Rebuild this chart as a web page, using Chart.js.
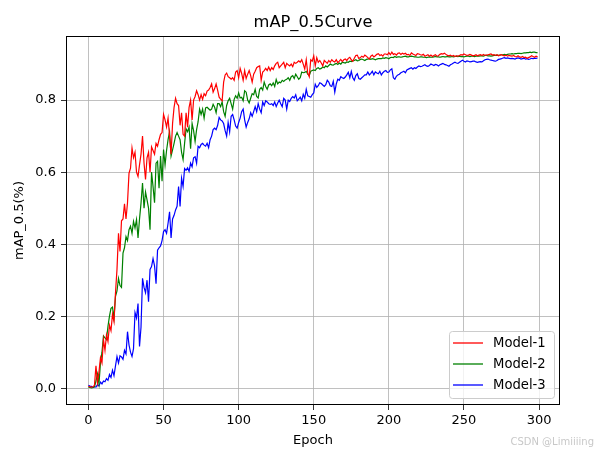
<!DOCTYPE html>
<html>
<head>
<meta charset="utf-8">
<script src="https://cdn.jsdelivr.net/npm/chart.js@4.4.1/dist/chart.umd.min.js"></script>
<style>
  html, body { margin: 0; padding: 0; background: #fff; }
  canvas { display: block; }
</style>
</head>
<body>
<canvas id="mapChart" width="598" height="453"></canvas>
<script>
// mAP@0.5 per epoch (0..299)
const model1 = [
  0.005, 0.004, 0.003, 0.004, 0.008, 0.062, 0.015, 0.045, 0.085, 0.070,
  0.135, 0.105, 0.148, 0.130, 0.175, 0.160, 0.205, 0.185, 0.265, 0.330,
  0.430, 0.380, 0.465, 0.470, 0.512, 0.470, 0.515, 0.597, 0.611, 0.667,
  0.640, 0.655, 0.600, 0.588, 0.620, 0.650, 0.700, 0.625, 0.580, 0.640,
  0.655, 0.600, 0.670, 0.660, 0.650, 0.680, 0.672, 0.690, 0.705, 0.710,
  0.760, 0.745, 0.725, 0.750, 0.700, 0.650, 0.735, 0.780, 0.805, 0.790,
  0.785, 0.730, 0.765, 0.705, 0.700, 0.765, 0.725, 0.780, 0.800, 0.745,
  0.800, 0.810, 0.826, 0.815, 0.800, 0.815, 0.802, 0.818, 0.812, 0.825,
  0.828, 0.835, 0.845, 0.822, 0.832, 0.845, 0.828, 0.808, 0.803, 0.798,
  0.850, 0.870, 0.875, 0.865, 0.862, 0.858, 0.862, 0.855, 0.878, 0.882,
  0.862, 0.888, 0.874, 0.855, 0.882, 0.860, 0.872, 0.882, 0.868, 0.850,
  0.872, 0.880, 0.890, 0.893, 0.895, 0.855, 0.878, 0.882, 0.888, 0.882,
  0.892, 0.882, 0.890, 0.885, 0.895, 0.902, 0.905, 0.890, 0.895, 0.900,
  0.905, 0.890, 0.902, 0.898, 0.895, 0.900, 0.893, 0.905, 0.902, 0.905,
  0.909, 0.905, 0.912, 0.900, 0.886, 0.912, 0.875, 0.865, 0.912, 0.908,
  0.923, 0.895, 0.918, 0.905, 0.910, 0.903, 0.895, 0.910, 0.906, 0.902,
  0.910, 0.905, 0.912, 0.908, 0.906, 0.912, 0.904, 0.908, 0.913, 0.907,
  0.912, 0.914, 0.910, 0.916, 0.919, 0.912, 0.908, 0.916, 0.924, 0.925,
  0.915, 0.918, 0.922, 0.919, 0.925, 0.922, 0.918, 0.914, 0.922, 0.925,
  0.920, 0.923, 0.927, 0.929, 0.924, 0.926, 0.922, 0.928, 0.928, 0.926,
  0.932, 0.926, 0.933, 0.927, 0.929, 0.925, 0.930, 0.931, 0.927, 0.930,
  0.928, 0.930, 0.926, 0.927, 0.924, 0.931, 0.928, 0.926, 0.924, 0.929,
  0.928, 0.926, 0.925, 0.927, 0.922, 0.924, 0.926, 0.922, 0.925, 0.921,
  0.924, 0.926, 0.922, 0.923, 0.927, 0.929, 0.928, 0.930, 0.927, 0.924,
  0.923, 0.925, 0.922, 0.924, 0.921, 0.923, 0.922, 0.924, 0.926, 0.925,
  0.928, 0.926, 0.924, 0.925, 0.927, 0.925, 0.923, 0.924, 0.926, 0.923,
  0.925, 0.926, 0.924, 0.927, 0.924, 0.925, 0.926, 0.927, 0.928, 0.925,
  0.926, 0.924, 0.926, 0.923, 0.925, 0.926, 0.924, 0.923, 0.925, 0.922,
  0.924, 0.923, 0.922, 0.924, 0.921, 0.920, 0.923, 0.920, 0.919, 0.921,
  0.918, 0.919, 0.916, 0.918, 0.920, 0.923, 0.921, 0.919, 0.922, 0.920
];

const model2 = [
  0.003, 0.002, 0.001, 0.002, 0.004, 0.020, 0.040, 0.012, 0.070, 0.100,
  0.145, 0.140, 0.135, 0.172, 0.200, 0.222, 0.225, 0.195, 0.255, 0.270,
  0.305, 0.285, 0.280, 0.375, 0.390, 0.421, 0.410, 0.440, 0.450, 0.430,
  0.463, 0.445, 0.468, 0.417, 0.470, 0.514, 0.570, 0.500, 0.545, 0.523,
  0.500, 0.440, 0.600, 0.560, 0.515, 0.625, 0.630, 0.555, 0.645, 0.575,
  0.663, 0.620, 0.660, 0.690, 0.712, 0.645, 0.662, 0.680, 0.700, 0.710,
  0.700, 0.690, 0.655, 0.635, 0.680, 0.720, 0.712, 0.725, 0.665, 0.735,
  0.715, 0.685, 0.718, 0.740, 0.775, 0.760, 0.775, 0.750, 0.778, 0.780,
  0.776, 0.772, 0.775, 0.788, 0.780, 0.765, 0.790, 0.790, 0.782, 0.795,
  0.768, 0.755, 0.785, 0.798, 0.805, 0.790, 0.775, 0.802, 0.812, 0.805,
  0.820, 0.806, 0.808, 0.798, 0.826, 0.822, 0.800, 0.792, 0.805, 0.818,
  0.815, 0.830, 0.810, 0.806, 0.830, 0.835, 0.828, 0.850, 0.838, 0.830,
  0.842, 0.845, 0.840, 0.848, 0.838, 0.857, 0.845, 0.850, 0.848, 0.855,
  0.852, 0.856, 0.858, 0.862, 0.855, 0.865, 0.868, 0.860, 0.872, 0.865,
  0.858, 0.862, 0.878, 0.876, 0.877, 0.880, 0.872, 0.868, 0.880, 0.882,
  0.884, 0.882, 0.888, 0.890, 0.886, 0.888, 0.892, 0.890, 0.895, 0.892,
  0.896, 0.900, 0.898, 0.897, 0.900, 0.902, 0.899, 0.903, 0.900, 0.905,
  0.904, 0.903, 0.906, 0.905, 0.908, 0.907, 0.909, 0.910, 0.912, 0.909,
  0.910, 0.913, 0.914, 0.912, 0.910, 0.913, 0.914, 0.915, 0.913, 0.915,
  0.914, 0.912, 0.914, 0.915, 0.915, 0.915, 0.917, 0.916, 0.918, 0.917,
  0.915, 0.918, 0.919, 0.918, 0.921, 0.919, 0.920, 0.920, 0.919, 0.920,
  0.921, 0.922, 0.920, 0.920, 0.921, 0.922, 0.921, 0.920, 0.920, 0.919,
  0.919, 0.920, 0.920, 0.919, 0.919, 0.918, 0.919, 0.920, 0.919, 0.919,
  0.920, 0.921, 0.920, 0.920, 0.919, 0.920, 0.921, 0.920, 0.920, 0.921,
  0.920, 0.920, 0.921, 0.920, 0.921, 0.922, 0.921, 0.922, 0.921, 0.921,
  0.920, 0.921, 0.922, 0.922, 0.921, 0.922, 0.922, 0.921, 0.922, 0.922,
  0.922, 0.923, 0.923, 0.922, 0.924, 0.924, 0.923, 0.923, 0.922, 0.923,
  0.924, 0.924, 0.925, 0.924, 0.925, 0.926, 0.926, 0.927, 0.926, 0.927,
  0.928, 0.928, 0.929, 0.928, 0.929, 0.929, 0.930, 0.930, 0.929, 0.930,
  0.931, 0.931, 0.932, 0.932, 0.933, 0.932, 0.933, 0.933, 0.932, 0.932
];

const model3 = [
  0.008, 0.006, 0.005, 0.002, 0.004, 0.003, 0.010, 0.006, 0.017, 0.012,
  0.020, 0.018, 0.027, 0.022, 0.038, 0.030, 0.050, 0.035, 0.062, 0.088,
  0.070, 0.090, 0.087, 0.080, 0.105, 0.095, 0.157, 0.120, 0.100, 0.088,
  0.110, 0.210, 0.195, 0.235, 0.116, 0.170, 0.305, 0.280, 0.265, 0.300,
  0.240, 0.330, 0.338, 0.360, 0.340, 0.290, 0.383, 0.390, 0.395, 0.410,
  0.435, 0.440, 0.430, 0.458, 0.490, 0.417, 0.470, 0.480, 0.495, 0.505,
  0.560, 0.505, 0.583, 0.560, 0.610, 0.605, 0.612, 0.602, 0.625, 0.615,
  0.640, 0.643, 0.625, 0.672, 0.668, 0.677, 0.680, 0.675, 0.672, 0.680,
  0.668, 0.690, 0.700, 0.718, 0.722, 0.718, 0.730, 0.752, 0.745, 0.742,
  0.735, 0.715, 0.700, 0.738, 0.712, 0.755, 0.760, 0.745, 0.728, 0.722,
  0.738, 0.750, 0.768, 0.775, 0.745, 0.725, 0.738, 0.748, 0.765, 0.755,
  0.768, 0.782, 0.768, 0.790, 0.775, 0.765, 0.795, 0.785, 0.798, 0.795,
  0.790, 0.788, 0.790, 0.785, 0.795, 0.782, 0.792, 0.800, 0.790, 0.782,
  0.805, 0.800, 0.775, 0.800, 0.796, 0.805, 0.810, 0.806, 0.815, 0.798,
  0.803, 0.808, 0.798, 0.816, 0.805, 0.830, 0.812, 0.810, 0.808, 0.815,
  0.820, 0.844, 0.835, 0.840, 0.848, 0.846, 0.842, 0.838, 0.843, 0.855,
  0.850, 0.840, 0.838, 0.852, 0.822, 0.845, 0.858, 0.855, 0.865, 0.862,
  0.860, 0.864, 0.870, 0.877, 0.862, 0.880, 0.862, 0.855, 0.868, 0.873,
  0.860, 0.858, 0.862, 0.866, 0.870, 0.870, 0.878, 0.870, 0.874, 0.880,
  0.870, 0.878, 0.875, 0.873, 0.880, 0.870, 0.876, 0.880, 0.882, 0.877,
  0.878, 0.884, 0.887, 0.862, 0.858, 0.866, 0.870, 0.872, 0.876, 0.878,
  0.880, 0.876, 0.884, 0.886, 0.888, 0.890, 0.886, 0.890, 0.888, 0.892,
  0.895, 0.893, 0.894, 0.896, 0.898, 0.895, 0.894, 0.896, 0.900, 0.898,
  0.896, 0.899, 0.898, 0.895, 0.898, 0.900, 0.902, 0.899, 0.898, 0.896,
  0.894, 0.898, 0.900, 0.903, 0.905, 0.903, 0.902, 0.905, 0.908, 0.911,
  0.908, 0.906, 0.909, 0.908, 0.906, 0.907, 0.908, 0.908, 0.906, 0.905,
  0.906, 0.907, 0.906, 0.909, 0.912, 0.913, 0.914, 0.912, 0.911, 0.910,
  0.909, 0.908, 0.910, 0.913, 0.914, 0.915, 0.917, 0.918, 0.916, 0.917,
  0.916, 0.915, 0.916, 0.915, 0.914, 0.916, 0.917, 0.916, 0.914, 0.915,
  0.916, 0.914, 0.915, 0.913, 0.914, 0.916, 0.915, 0.916, 0.916, 0.917
];

const seriesNames = ['Model-1', 'Model-2', 'Model-3'];
const xTicks = [0, 50, 100, 150, 200, 250, 300];
const yTicks = [0.0, 0.2, 0.4, 0.6, 0.8];

const FONT = 'DejaVu Sans';

function toPoints(arr) {
    return arr.map(function (v, i) { return { x: i, y: v }; });
}

// title over the axes, frame on all four sides, legend box and watermark
const decorations = {
    id: 'decorations',
    afterDraw: function (chart) {
        const ctx = chart.ctx;
        const a = chart.chartArea;
        ctx.save();

        ctx.font = '16.3px "' + FONT + '"';
        ctx.fillStyle = '#000';
        ctx.textAlign = 'center';
        ctx.textBaseline = 'middle';
        ctx.fillText('mAP_0.5Curve', (a.left + a.right) / 2, 23);

        ctx.strokeStyle = '#000';
        ctx.lineWidth = 1;
        ctx.strokeRect(Math.round(a.left) + 0.5, Math.round(a.top) + 0.5,
            Math.round(a.right - a.left) - 1, Math.round(a.bottom - a.top) - 1);

        // legend, lower right
        const boxW = 105, boxH = 67;
        const bx = a.right - 6 - boxW, by = a.bottom - 7 - boxH;
        ctx.beginPath();
        ctx.roundRect(bx + 0.5, by + 0.5, boxW, boxH, 3);
        ctx.fillStyle = 'rgba(255,255,255,0.8)';
        ctx.fill();
        ctx.strokeStyle = '#cccccc';
        ctx.stroke();
        ctx.font = '13.2px "' + FONT + '"';
        ctx.textAlign = 'left';
        chart.data.datasets.forEach(function (ds, i) {
            const ry = by + 12 + i * 21;
            ctx.beginPath();
            ctx.moveTo(bx + 4, ry);
            ctx.lineTo(bx + 34, ry);
            ctx.strokeStyle = ds.borderColor;
            ctx.lineWidth = 1.3;
            ctx.stroke();
            ctx.fillStyle = '#000';
            ctx.fillText(ds.label, bx + 44, ry + 1);
        });

        ctx.font = '10px "' + FONT + '"';
        ctx.fillStyle = '#c8c8c8';
        ctx.textAlign = 'right';
        ctx.fillText('CSDN @Limiiiing', 594, 442);
        ctx.restore();
    }
};

const ctx = document.getElementById('mapChart').getContext('2d');
new Chart(ctx, {
    type: 'line',
    data: {
        datasets: [
            { label: seriesNames[0], data: toPoints(model1), borderColor: '#ff0000' },
            { label: seriesNames[1], data: toPoints(model2), borderColor: '#008000' },
            { label: seriesNames[2], data: toPoints(model3), borderColor: '#0000ff' }
        ]
    },
    options: {
        responsive: false,
        animation: false,
        devicePixelRatio: 1,
        layout: { padding: { top: 36, right: 38, bottom: 0, left: 0 } },
        elements: {
            point: { radius: 0 },
            line: { borderWidth: 1.2, tension: 0, fill: false }
        },
        plugins: {
            legend: { display: false },
            tooltip: { enabled: false },
            title: { display: false }
        },
        scales: {
            x: {
                type: 'linear',
                min: -14.95,
                max: 313.95,
                afterBuildTicks: function (scale) {
                    scale.ticks = xTicks.map(function (v) { return { value: v }; });
                },
                afterFit: function (scale) { scale.height = 48; },
                ticks: {
                    color: '#000',
                    padding: 3,
                    maxRotation: 0,
                    font: { family: FONT, size: 13 }
                },
                grid: {
                    color: '#b0b0b0',
                    lineWidth: 0.8,
                    tickColor: '#000',
                    tickLength: 5
                },
                border: { display: false },
                title: {
                    display: true,
                    text: 'Epoch',
                    color: '#000',
                    font: { family: FONT, size: 13 },
                    padding: { top: 0, bottom: 5 }
                }
            },
            y: {
                type: 'linear',
                min: -0.0466,
                max: 0.978,
                afterBuildTicks: function (scale) {
                    scale.ticks = yTicks.map(function (v) { return { value: v }; });
                },
                afterFit: function (scale) { scale.width = 66; },
                ticks: {
                    color: '#000',
                    padding: 5,
                    font: { family: FONT, size: 13 },
                    callback: function (v) { return v.toFixed(1); }
                },
                grid: {
                    color: '#b0b0b0',
                    lineWidth: 0.8,
                    tickColor: '#000',
                    tickLength: 5
                },
                border: { display: false },
                title: {
                    display: true,
                    text: 'mAP_0.5(%)',
                    color: '#000',
                    font: { family: FONT, size: 13 },
                    padding: { top: 12, bottom: 0 }
                }
            }
        }
    },
    plugins: [decorations]
});
</script>
</body>
</html>
